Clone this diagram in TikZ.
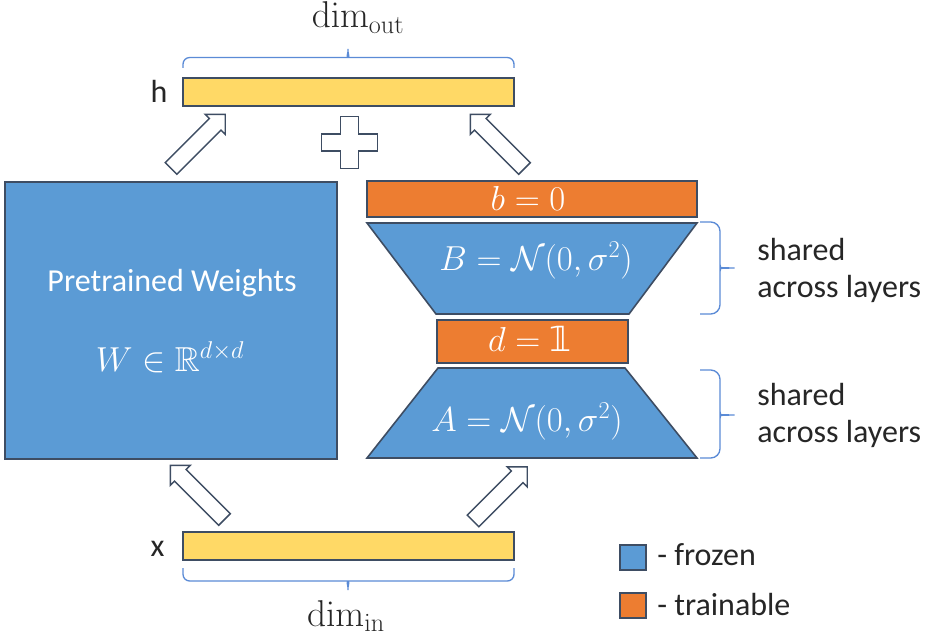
\RequirePackage{fix-cm}
\documentclass[tikz,border=0pt]{standalone}
\usepackage{amssymb}
\usepackage[no-math]{fontspec}
\setmainfont{Carlito}
\newfontfamily\dvsans{DejaVu Sans}
\usetikzlibrary{shapes.arrows,fit}

\definecolor{edge}{HTML}{3E4D63}
\definecolor{frozenblue}{HTML}{5B9BD5}
\definecolor{trainorange}{HTML}{ED7D31}
\definecolor{baryellow}{HTML}{FFD966}
\definecolor{bracecol}{HTML}{5B8BD6}
\definecolor{txt}{HTML}{262626}

\newcommand{\indicatorone}{\mbox{\dvsans 𝟙}}

\begin{document}
\begin{tikzpicture}[x=0.75pt,y=-0.75pt,
  txtfont/.style={font=\fontsize{24}{29}\selectfont},
  lbl/.style={txtfont, text=txt, inner sep=0pt, anchor=base},
  dimlbl/.style={lbl, font=\fontsize{28}{33}\selectfont},
  wlbl/.style={txtfont, text=white, inner sep=0pt, anchor=base},
  mathlbl/.style={wlbl, font=\fontsize{26}{31}\selectfont},
  box/.style={draw=edge, line width=1.2pt, inner sep=0pt},
  bar/.style={box, fill=baryellow},
  frozen/.style={box, fill=frozenblue},
  trainable/.style={box, fill=trainorange},
  bracket/.style={draw=bracecol, line width=1pt, rounded corners=5},
  barrow/.style={single arrow, draw=edge, fill=white, line width=1.1pt,
    inner xsep=0pt, inner ysep=5.6pt, minimum height=57.5pt,
    single arrow head extend=4.5pt, single arrow tip angle=90, anchor=tail},
  plusshape/.style={draw=edge, fill=white, line width=1.1pt}
]
\useasboundingbox (0,0) rectangle (934,638);

% output vector h
\node[bar, fit={(183,78) (514,106)}] (hbar) {};
\node[lbl] (hlbl) at (159,103) {h};
\draw[bracket] (183,68) -- (183,57.5) -- (342,57.5)
  .. controls (346,57.5) and (348,53) .. (348,45)
  .. controls (348,53) and (350,57.5) .. (354,57.5) -- (514,57.5) -- (514,68);
\node[dimlbl] (dimout) at (358,28) {$\mathrm{dim}_{\mathrm{out}}$};

% input vector x
\node[bar, fit={(183,532) (514,560)}] (xbar) {};
\node[lbl] (xlbl) at (157.5,556) {x};
\draw[bracket] (183,568) -- (183,581) -- (342,581)
  .. controls (346,581) and (348,586) .. (348,594)
  .. controls (348,586) and (350,581) .. (354,581) -- (514,581) -- (514,568);
\node[dimlbl] (dimin) at (346,626) {$\mathrm{dim}_{\mathrm{in}}$};

% frozen pretrained weights
\node[frozen, fit={(5,182) (337,459)}] (W) {};
\node[wlbl] (wtitle) at (172,291.5) {Pretrained Weights};
\node[mathlbl] (wmath) at (170,371.5) {$W \in \mathbb{R}^{d\times d}$};

% low-rank branch
\node[trainable, fit={(367,181) (697,217)}] (bvec) {};
\node[mathlbl] (btxt) at (528,210) {$b = 0$};
\draw[frozen] (367,223) -- (697,223) -- (629,314) -- (436,314) -- cycle;
\node[mathlbl] (Btxt) at (536,270) {$B = \mathcal{N}(0,\sigma^2)$};
\node[trainable, fit={(437,320) (628,363)}] (dvec) {};
\node[mathlbl] (dtxt) at (530,351.5) {$d = \indicatorone$};
\draw[frozen] (438,368) -- (625,368) -- (697,458) -- (367,458) -- cycle;
\node[mathlbl] (Atxt) at (527,431.5) {$A = \mathcal{N}(0,\sigma^2)$};

% shared-parameter braces
\draw[bracket, rounded corners=7] (700,222) -- (720,222) -- (720,262)
  .. controls (720,266) and (724,268) .. (740,268)
  .. controls (724,268) and (720,270) .. (720,274) -- (720,314) -- (700,314);
\node[lbl, anchor=base west] (s1a) at (757,260) {shared};
\node[lbl, anchor=base west] (s1b) at (757,297) {across layers};
\draw[bracket, rounded corners=7] (700,370) -- (720,370) -- (720,409)
  .. controls (720,413) and (724,415) .. (740,415)
  .. controls (724,415) and (720,417) .. (720,421) -- (720,458) -- (700,458);
\node[lbl, anchor=base west] (s2a) at (757,405) {shared};
\node[lbl, anchor=base west] (s2b) at (757,442) {across layers};

% flow arrows
\node[barrow, rotate=45] (aul) at (170.5,169) {};
\node[barrow, rotate=135] (aur) at (525,169) {};
\node[barrow, rotate=135] (all) at (225,520) {};
\node[barrow, rotate=45] (alr) at (472.5,521.5) {};

% sum of the two paths
\draw[plusshape] (340.7,116.5) -- (358.3,116.5) -- (358.3,134) -- (377.5,134)
  -- (377.5,151) -- (358.3,151) -- (358.3,168.5) -- (340.7,168.5)
  -- (340.7,151) -- (321.5,151) -- (321.5,134) -- (340.7,134) -- cycle;

% legend
\node[frozen, fit={(620,545) (646,570)}] (legf) {};
\node[lbl, anchor=base west] (legftxt) at (657,565) {- frozen};
\node[trainable, fit={(620,593) (646,618)}] (legt) {};
\node[lbl, anchor=base west] (legttxt) at (657,615) {- trainable};
\end{tikzpicture}
\end{document}
